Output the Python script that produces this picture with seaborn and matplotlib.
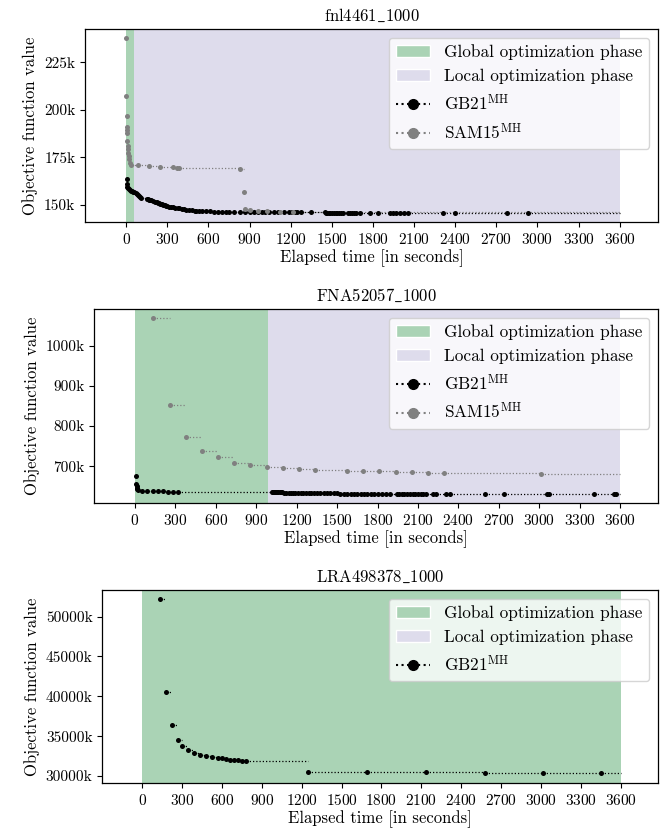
import matplotlib
matplotlib.use('Agg')
import matplotlib.pyplot as plt
import seaborn as sns
from matplotlib.patches import Patch
from matplotlib.lines import Line2D
from matplotlib.ticker import FuncFormatter, MultipleLocator

# ---------------- data ----------------
titles = [r'$\mathrm{fnl4461\_1000}$', r'$\mathrm{FNA52057\_1000}$', r'$\mathrm{LRA498378\_1000}$']
time_limit = 3600
global_end = [55, 985, 3600]
ytick_steps = [25000, 100000, 5000000]

fnl_gb_t = [3, 5, 8, 12, 18, 25, 33, 42, 52, 61,
            70, 78, 88, 97, 104, 109, 150, 158, 166, 175,
            182, 195, 210, 225, 231, 240, 250, 260, 268, 280,
            290, 300, 316, 330, 345, 360, 375, 389, 405, 420,
            440, 462, 480, 500, 511, 530, 550, 584, 610, 640,
            670, 700, 730, 754, 790, 830, 870, 900, 930, 960,
            990, 1010, 1040, 1080, 1110, 1150, 1190, 1210, 1230, 1250,
            1277, 1350, 1448, 1458, 1468, 1478, 1490, 1502, 1515, 1528,
            1540, 1555, 1570, 1580, 1616, 1630, 1645, 1660, 1680, 1703,
            1776, 1834, 1922, 1945, 1970, 2000, 2025, 2053, 2309, 2396,
            2776, 2929]
fnl_gb_v = [163.7, 161.0, 159.6, 158.8, 158.2, 157.9, 157.5, 157.2, 157.0, 156.8,
            156.2, 155.8, 155.2, 154.6, 154.0, 153.5, 153.2, 153.0, 152.8, 152.6,
            152.4, 152.0, 151.8, 151.5, 151.2, 150.9, 150.6, 150.3, 150.0, 149.8,
            149.6, 149.4, 149.2, 149.0, 148.8, 148.6, 148.4, 148.2, 148.0, 147.8,
            147.6, 147.4, 147.2, 147.0, 146.9, 146.8, 146.75, 146.7, 146.65, 146.6,
            146.55, 146.5, 146.48, 146.46, 146.44, 146.42, 146.4, 146.38, 146.36, 146.34,
            146.32, 146.3, 146.28, 146.26, 146.24, 146.22, 146.2, 146.18, 146.16, 146.14,
            146.12, 146.1, 146.08, 146.06, 146.04, 146.02, 146.0, 145.98, 145.96, 145.94,
            145.92, 145.9, 145.88, 145.86, 145.84, 145.82, 145.8, 145.79, 145.78, 145.77,
            145.76, 145.75, 145.74, 145.73, 145.72, 145.71, 145.7, 145.69, 145.68, 145.67,
            145.66, 145.65]

fnl_sam_t = [0, 2, 3, 4, 5, 6, 8, 10, 13, 16, 20, 24, 28, 33, 85, 168, 246, 341,
             370, 389, 827, 857, 864, 900, 960, 1030, 1120, 1220]
fnl_sam_v = [237.7, 207.5, 196.8, 190.9, 189.5, 187.7, 183.8, 181.0, 179.3, 177.5,
             175.8, 174.0, 172.3, 171.1, 171.0, 170.6, 170.1, 169.8, 169.5, 169.4,
             168.7, 157.0, 147.7, 147.2, 146.9, 146.7, 146.6, 146.5]

fna_gb_t = [10, 12, 14, 16, 18, 22, 54, 94, 133, 170, 207, 244, 284, 321,
            1015, 1022, 1030, 1038, 1046, 1055, 1065, 1075, 1085, 1095,
            1110, 1125, 1140, 1155, 1170, 1190, 1210, 1230, 1250, 1270,
            1290, 1310, 1330, 1350, 1375, 1400, 1425, 1450, 1475, 1500,
            1525, 1550, 1575, 1600, 1625, 1650, 1675, 1700, 1725, 1750,
            1775, 1800, 1830, 1860, 1892, 1941, 1960, 1980, 2000, 2020,
            2040, 2060, 2080, 2100, 2120, 2140, 2163, 2212, 2237, 2311,
            2340, 2594, 2735, 3055, 3070, 3408, 3556, 3568]
fna_gb_v = [676.7, 656.0, 650.0, 647.0, 644.0, 641.0, 637.5, 637.4, 637.3, 637.2,
            637.1, 637.0, 636.9, 636.8,
            636.5, 636.2, 636.0, 635.8, 635.6, 635.4, 635.2, 635.0, 634.8, 634.6,
            634.4, 634.2, 634.0, 633.9, 633.8, 633.6, 633.4, 633.3, 633.2, 633.1,
            633.0, 632.9, 632.8, 632.7, 632.6, 632.5, 632.4, 632.3, 632.2, 632.1,
            632.0, 631.9, 631.8, 631.7, 631.6, 631.5, 631.45, 631.4, 631.35, 631.3,
            631.25, 631.2, 631.15, 631.1, 631.05, 631.0, 630.98, 630.96, 630.94, 630.92,
            630.9, 630.88, 630.86, 630.84, 630.82, 630.8, 630.78, 630.75, 630.72, 630.7,
            630.65, 630.6, 630.55, 630.5, 630.48, 630.45, 630.42, 630.4]

fna_sam_t = [138, 259, 380, 500, 619, 737, 858, 979, 1097, 1218, 1336, 1576, 1694,
             1813, 1936, 2054, 2172, 2291, 3011]
fna_sam_v = [1067.6, 851.0, 771.7, 739.0, 721.7, 709.0, 704.0, 699.0, 696.0, 693.5,
             690.5, 689.0, 688.0, 687.0, 686.0, 684.8, 683.6, 682.0, 681.0]

lra_gb_t = [132, 177, 222, 267, 300, 345, 390, 435, 480, 525, 570, 600, 632, 662,
            692, 722, 752, 782, 1248, 1690, 2133, 2575, 3018, 3453]
lra_gb_v = [52250, 40500, 36460, 34500, 33710, 33250, 32920, 32670, 32500, 32375,
            32290, 32210, 32125, 32040, 32000, 31960, 31920, 31880, 30500, 30480,
            30460, 30440, 30420, 30400]

ylims = [(141.07, 242.5), (608.5, 1091.0), (29125, 53337)]
xlim = (-300, 3880)

GREEN = '#aad3b5'
PURPLE = '#dedcec'
GB_COLOR = 'black'
SAM_COLOR = '#808080'
label_gb = r'GB21$^{\mathrm{MH}}$'
label_sam = r'SAM15$^{\mathrm{MH}}$'

# ---------------- style ----------------
sns.set_style('ticks')
plt.rcParams['font.family'] = ['cmr10', 'DejaVu Serif']
plt.rcParams['mathtext.fontset'] = 'cm'
plt.rcParams['axes.unicode_minus'] = False
plt.rcParams['axes.formatter.use_mathtext'] = True
for k in ['axes.edgecolor', 'text.color', 'xtick.color', 'ytick.color', 'axes.labelcolor']:
    plt.rcParams[k] = 'black'
plt.rcParams['xtick.major.size'] = 3.5
plt.rcParams['ytick.major.size'] = 3.5
plt.rcParams['axes.linewidth'] = 0.9

fig = plt.figure(figsize=(6.6, 8.3), dpi=100)
positions = [[0.1288, 0.7325, 0.8682, 0.2325],
             [0.1429, 0.3940, 0.8541, 0.2337],
             [0.1550, 0.0566, 0.8420, 0.2325]]

panels = [
    [(fnl_gb_t, fnl_gb_v, GB_COLOR), (fnl_sam_t, fnl_sam_v, SAM_COLOR)],
    [(fna_gb_t, fna_gb_v, GB_COLOR), (fna_sam_t, fna_sam_v, SAM_COLOR)],
    [(lra_gb_t, lra_gb_v, GB_COLOR)],
]

for i in range(3):
    ax = fig.add_axes(positions[i])
    ax.axvspan(0, global_end[i], color=GREEN, lw=0, zorder=0)
    ax.axvspan(global_end[i], time_limit, color=PURPLE, lw=0, zorder=0)
    for times, vals, col in panels[i]:
        yv = [v * 1000 for v in vals]
        ends = times[1:] + [time_limit]
        ax.hlines(yv, times, ends, colors=col, linestyles=(0, (1, 1.6)), lw=0.9, zorder=2)
        sns.scatterplot(x=times, y=yv, color=col, s=13, linewidth=0, ax=ax, zorder=3, legend=False)
    ax.set_xlim(*xlim)
    ax.set_ylim(ylims[i][0] * 1000, ylims[i][1] * 1000)
    ax.set_xticks(list(range(0, 3601, 300)))
    ax.yaxis.set_major_locator(MultipleLocator(ytick_steps[i]))
    ax.yaxis.set_major_formatter(FuncFormatter(lambda v, p: f'{v/1000:.0f}k'))
    ax.tick_params(labelsize=11)
    ax.set_title(titles[i], fontsize=12)
    ax.set_xlabel('Elapsed time [in seconds]', fontsize=12, labelpad=2)
    ax.set_ylabel('Objective function value', fontsize=12)
    handles = [Patch(facecolor=GREEN, label='Global optimization phase'),
               Patch(facecolor=PURPLE, label='Local optimization phase'),
               Line2D([0], [0], color=GB_COLOR, ls=':', lw=1.5, marker='o', ms=7, label=label_gb)]
    if len(panels[i]) > 1:
        handles.append(Line2D([0], [0], color=SAM_COLOR, ls=':', lw=1.5, marker='o', ms=7, label=label_sam))
    ax.legend(handles=handles, loc='upper right', fontsize=12.4, frameon=True)

fig.savefig('out.png', dpi=100)
